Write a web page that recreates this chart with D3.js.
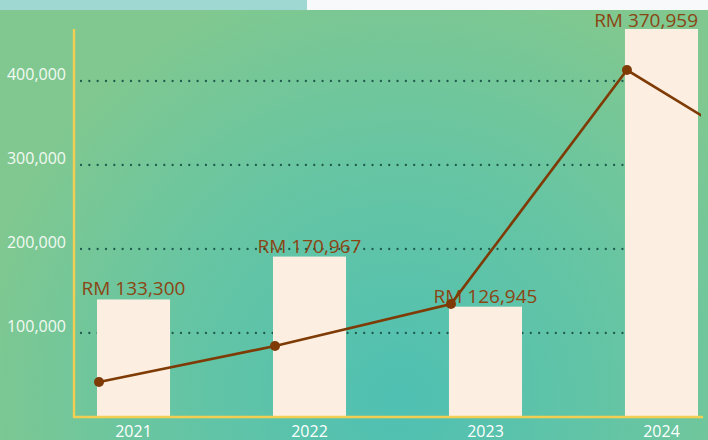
<!DOCTYPE html>
<html>
<head>
<meta charset="utf-8">
<script src="https://cdn.jsdelivr.net/npm/d3@7"></script>
<style>
  html, body { margin: 0; padding: 0; background: #f8f9fa; }
  svg { display: block; font-family: "Open Sans", "Noto Sans", sans-serif; }
</style>
</head>
<body>
<svg id="chart" width="708" height="440"></svg>
<script>
// Yearly sales (bars) and the running trend line
const years = ["2021", "2022", "2023", "2024"];
const sales = [133300, 170967, 126945, 370959];
// trend continues one period past the last year
const trend = [41700, 84500, 134500, 413000, 285000];
const yTicks = [100000, 200000, 300000, 400000];

const W = 708, H = 440;
const plot = { left: 74, right: 702, top: 29, bottom: 417 };

const svg = d3.select("#chart");

// background
const defs = svg.append("defs");
const grad = defs.append("radialGradient")
  .attr("id", "bg").attr("gradientUnits", "userSpaceOnUse")
  .attr("cx", 400).attr("cy", 400).attr("r", 430);
grad.append("stop").attr("offset", "0%").attr("stop-color", "#4fc0b3");
grad.append("stop").attr("offset", "55%").attr("stop-color", "#66c5a3");
grad.append("stop").attr("offset", "100%").attr("stop-color", "#80c890");
defs.append("clipPath").attr("id", "plotClip")
  .append("rect").attr("x", 0).attr("y", 0).attr("width", plot.right - 1).attr("height", H);

svg.append("rect").attr("width", W).attr("height", H).attr("fill", "url(#bg)");
svg.append("rect").attr("x", 0).attr("y", 0).attr("width", 307).attr("height", 10).attr("fill", "#9fd8d2");
svg.append("rect").attr("x", 307).attr("y", 0).attr("width", W - 307).attr("height", 10).attr("fill", "#f8f9fa");

// scales
const x = d3.scaleBand().domain(years).range([97, 698]).paddingInner(0.585).paddingOuter(0);
const y = d3.scaleLinear().domain([0, 400000]).range([plot.bottom, 81]);
const yBar = d3.scaleLinear().domain([30000, d3.max(sales)]).range([plot.bottom, plot.top]);
const lineX = i => x(years[0]) + i * x.step() + 2;

// dotted gridlines
svg.append("g").selectAll("line").data(yTicks).join("line")
  .attr("x1", 81).attr("x2", 694)
  .attr("y1", d => y(d)).attr("y2", d => y(d))
  .attr("stroke", "#1d5a4d").attr("stroke-width", 2.3)
  .attr("stroke-linecap", "round").attr("stroke-dasharray", "0,8.33");

// y tick labels
const yAxis = d3.axisLeft(y).tickValues(yTicks).tickSize(0).tickPadding(8)
  .tickFormat(d3.format(","));
const gy = svg.append("g").attr("transform", `translate(${plot.left},0)`).call(yAxis);
gy.select(".domain").remove();
gy.selectAll("text").attr("font-size", 16).attr("fill", "#f3faf3")
  .attr("dy", "-0.1em").attr("font-family", "Open Sans");

// bars
svg.append("g").selectAll("rect").data(sales).join("rect")
  .attr("x", (d, i) => x(years[i]))
  .attr("width", x.bandwidth())
  .attr("y", d => yBar(d))
  .attr("height", d => plot.bottom - yBar(d))
  .attr("fill", "#fcefe2");

// axis lines
svg.append("line").attr("x1", plot.left).attr("x2", plot.left)
  .attr("y1", plot.top).attr("y2", plot.bottom + 1)
  .attr("stroke", "#f2cf52").attr("stroke-width", 2.4);
svg.append("line").attr("x1", plot.left - 1).attr("x2", 703)
  .attr("y1", plot.bottom).attr("y2", plot.bottom)
  .attr("stroke", "#f2cf52").attr("stroke-width", 2.4);

// x labels
const xAxis = d3.axisBottom(x).tickSize(0).tickPadding(0);
const gx = svg.append("g").attr("transform", `translate(0,${plot.bottom})`).call(xAxis);
gx.select(".domain").remove();
gx.selectAll("text").attr("font-size", 16).attr("fill", "#ffffff")
  .attr("dy", null).attr("y", 20).attr("font-family", "Open Sans");

// value labels
const fmt = d3.format(",");
svg.append("g").selectAll("text").data(sales).join("text")
  .attr("text-anchor", "middle")
  .attr("font-size", 19)
  .attr("fill", "#8b4513")
  .attr("y", d => Math.max(yBar(d) - 4, 27))
  .attr("x", (d, i) => x(years[i]) + x.bandwidth() / 2)
  .text(d => "RM " + fmt(d))
  .each(function () {
    const t = d3.select(this);
    const w = this.getComputedTextLength();
    const cx = +t.attr("x");
    if (cx + w / 2 > W - 10) t.attr("x", W - 10 - w / 2);
  });

// trend line
const line = d3.line().x((d, i) => lineX(i)).y(d => y(d));
svg.append("path").datum(trend)
  .attr("clip-path", "url(#plotClip)")
  .attr("d", line)
  .attr("fill", "none").attr("stroke", "#7f3b05").attr("stroke-width", 2.6);
svg.append("g").selectAll("circle").data(trend.slice(0, years.length)).join("circle")
  .attr("cx", (d, i) => lineX(i)).attr("cy", d => y(d)).attr("r", 5)
  .attr("fill", "#7f3b05");
</script>
</body>
</html>
